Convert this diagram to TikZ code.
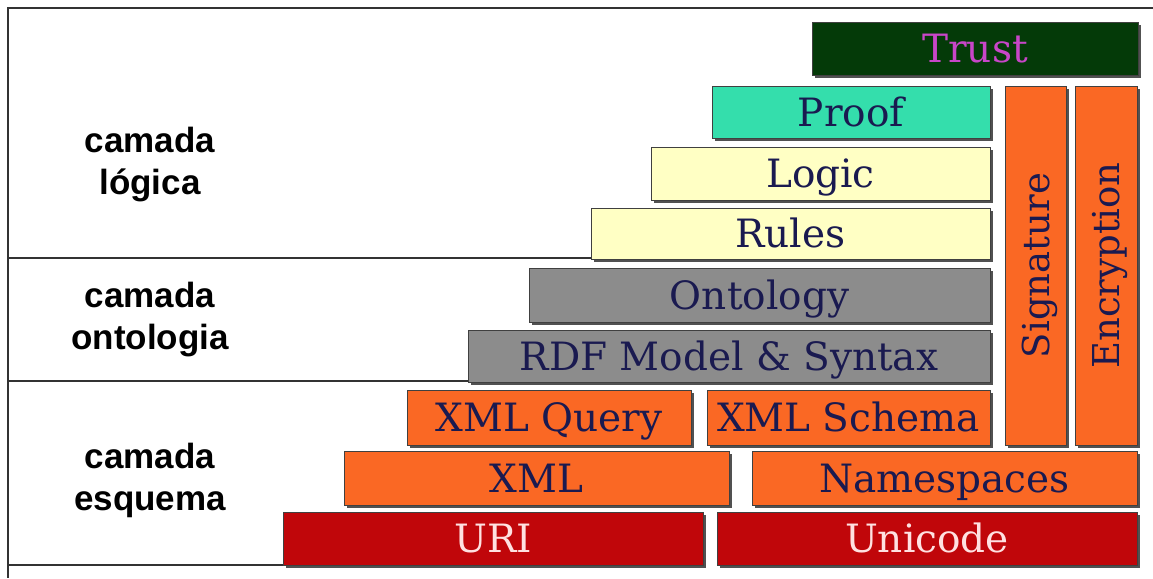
\documentclass[tikz,border=0pt]{standalone}
\usepackage{fontspec}
\setmainfont{Liberation Sans}
\newfontfamily\boxfont{DejaVu Serif}
\usetikzlibrary{shadows}
\definecolor{trustgreen}{RGB}{4,58,8}
\definecolor{trusttext}{RGB}{200,70,200}
\definecolor{prooftl}{RGB}{52,222,172}
\definecolor{paleyel}{RGB}{255,255,196}
\definecolor{ontgray}{RGB}{140,140,140}
\definecolor{xmlorange}{RGB}{250,104,36}
\definecolor{urired}{RGB}{192,6,10}
\definecolor{navytext}{RGB}{26,26,80}
\definecolor{pinktext}{RGB}{255,225,225}
\tikzset{
  layer/.style={draw=black!75, line width=0.9pt, inner sep=0pt, outer sep=0pt,
    anchor=north west, text=navytext, text height=28pt, text depth=0pt,
    font=\boxfont\fontsize{39}{42}\selectfont,
    drop shadow={shadow xshift=3pt, shadow yshift=-3pt, opacity=0.8, fill=black!85}},
  vlabel/.style={rotate=90, text=navytext, inner sep=0pt, text height=27pt, text depth=0pt,
    font=\boxfont\fontsize{37}{40}\selectfont},
  sidelabel/.style={align=center, font=\bfseries\fontsize{35}{42}\selectfont, text=black},
  frameline/.style={draw=black!80, line width=1.2pt}
}
\begin{document}
\begin{tikzpicture}[x=1pt,y=-1pt]
\useasboundingbox (0,0) rectangle (1153,578);
\fill[white] (0,0) rectangle (1153,578);
% frame
\coordinate (tl) at (8,8);
\coordinate (tr) at (1153,8);
\coordinate (bl) at (8,578);
\draw[frameline] (tr) -- (tl) -- (bl);
\coordinate (l1) at (8,258);
\coordinate (l2) at (8,381);
\coordinate (l3) at (8,565);
\coordinate (r1) at (591,258);
\coordinate (r2) at (468,381);
\coordinate (r3) at (283,565);
\draw[frameline] (l1) -- (r1);
\draw[frameline] (l2) -- (r2);
\draw[frameline] (l3) -- (r3);
% side labels
\node[sidelabel] (lg) at (150,165) {camada\\lógica};
\node[sidelabel] (on) at (150,320) {camada\\ontologia};
\node[sidelabel] (es) at (150,480) {camada\\esquema};
% boxes
\node[layer, fill=trustgreen, text=trusttext, minimum width=326, minimum height=53] (trust) at (812,22) {Trust};
\node[layer, fill=prooftl, minimum width=278, minimum height=52] (proof) at (712,86) {Proof};
\node[layer, fill=paleyel, minimum width=339, minimum height=53] (logic) at (651,147) {Logic};
\node[layer, fill=paleyel, minimum width=399, minimum height=51] (rules) at (591,208) {Rules};
\node[layer, fill=ontgray, minimum width=461, minimum height=54] (ont) at (529,268) {Ontology};
\node[layer, fill=ontgray, minimum width=522, minimum height=52] (rdf) at (468,330) {RDF Model \& Syntax};
\node[layer, fill=xmlorange, minimum width=284, minimum height=55] (xq) at (407,390) {XML Query};
\node[layer, fill=xmlorange, minimum width=283, minimum height=55] (xs) at (707,390) {XML Schema};
\node[layer, fill=xmlorange, minimum width=385, minimum height=54] (xml) at (344,451) {XML};
\node[layer, fill=xmlorange, minimum width=385, minimum height=54] (ns) at (752,451) {Namespaces};
\node[layer, fill=urired, text=pinktext, minimum width=420, minimum height=53] (uri) at (283,512) {URI};
\node[layer, fill=urired, text=pinktext, minimum width=420, minimum height=53] (uni) at (717,512) {Unicode};
\node[layer, fill=xmlorange, minimum width=61, minimum height=359] (sig) at (1005,86) {};
\node[layer, fill=xmlorange, minimum width=62, minimum height=359] (enc) at (1075,86) {};
\node[vlabel] (sigt) at (sig.center) {Signature};
\node[vlabel] (enct) at (enc.center) {Encryption};
\end{tikzpicture}
\end{document}
